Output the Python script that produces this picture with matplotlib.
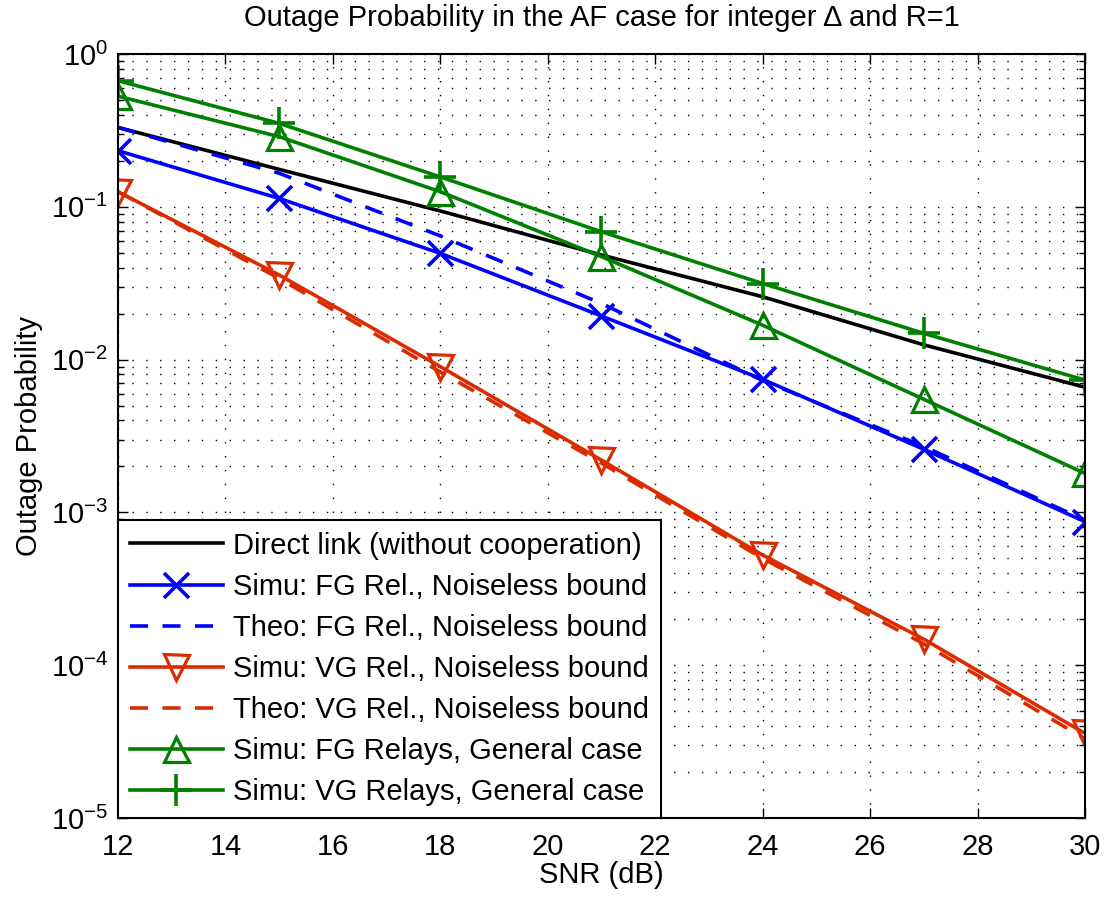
import numpy as np
import matplotlib
matplotlib.use('Agg')
import matplotlib.pyplot as plt
from matplotlib.ticker import LogLocator, NullFormatter

plt.rcParams['font.family'] = ['Liberation Sans', 'DejaVu Sans']
plt.rcParams['mathtext.fontset'] = 'custom'
plt.rcParams['mathtext.rm'] = 'Liberation Sans'
plt.rcParams['mathtext.it'] = 'Liberation Sans'

# SNR points (dB)
snr = [12, 15, 18, 21, 24, 27, 30]

# outage probabilities
direct_link = [0.331, 0.176, 0.094, 0.0484, 0.0258, 0.0125, 0.0066]
simu_fg_noiseless = [0.233, 0.1136, 0.0496, 0.0193, 0.00743, 0.00259, 0.00087]
theo_fg_noiseless = [0.331, 0.166, 0.0645, 0.0233, 0.0073, 0.0027, 0.00089]
simu_vg_noiseless = [0.1256, 0.0358, 0.0090, 0.0022, 0.000526, 0.000148, 3.58e-5]
theo_vg_noiseless = [0.1256, 0.034, 0.0083, 0.0021, 0.00050, 0.000138, 3.3e-5]
simu_fg_general = [0.53, 0.288, 0.1256, 0.0472, 0.0168, 0.0055, 0.0018]
simu_vg_general = [0.669, 0.352, 0.157, 0.0687, 0.0315, 0.01486, 0.00735]

labels = ['Direct link (without cooperation)',
          'Simu: FG Rel., Noiseless bound',
          'Theo: FG Rel., Noiseless bound',
          'Simu: VG Rel., Noiseless bound',
          'Theo: VG Rel., Noiseless bound',
          'Simu: FG Relays, General case',
          'Simu: VG Relays, General case']

blue = '#0000FF'
red = '#DA2C00'
green = '#008000'
fs = 21

fig = plt.figure(figsize=(11.12, 9.01), dpi=100)
ax = fig.add_axes([0.1061, 0.0921, 0.8696, 0.8479])

lw = 2.6
ms = 18
ax.semilogy(snr, direct_link, '-', color='black', lw=lw, label=labels[0])
ax.semilogy(snr, simu_fg_noiseless, '-x', color=blue, lw=lw, ms=ms, mew=2.6, label=labels[1])
ax.semilogy(snr, theo_fg_noiseless, '--', color=blue, lw=lw, dashes=(5, 4), label=labels[2])
ax.semilogy(snr, simu_vg_noiseless, '-v', color=red, lw=lw, ms=ms, mew=2.3, mfc='none', label=labels[3])
ax.semilogy(snr, theo_vg_noiseless, '--', color=red, lw=lw, dashes=(5, 4), label=labels[4])
ax.semilogy(snr, simu_fg_general, '-^', color=green, lw=lw, ms=ms, mew=2.3, mfc='none', label=labels[5])
ax.semilogy(snr, simu_vg_general, '-+', color=green, lw=lw, ms=ms + 5, mew=2.6, label=labels[6])

ax.set_xlim(12, 30)
ax.set_ylim(1e-5, 1)
ax.set_xticks(np.arange(12, 31, 2))
ax.yaxis.set_major_locator(LogLocator(base=10, numticks=10))
ax.yaxis.set_minor_locator(LogLocator(base=10, subs=np.arange(2, 10), numticks=20))
ax.yaxis.set_minor_formatter(NullFormatter())

ax.grid(True, which='major', axis='both', color='black', linestyle=(0, (1, 9)), linewidth=1.0)
ax.grid(True, which='minor', axis='y', color='black', linestyle=(0, (1, 9)), linewidth=1.0)
ax.tick_params(which='both', direction='in', top=True, right=True, labelsize=fs, width=1.0)
ax.tick_params(which='major', length=7, pad=7)
ax.tick_params(axis='x', which='major', pad=11)
ax.tick_params(which='minor', length=4)
for s in ax.spines.values():
    s.set_linewidth(1.5)

ax.set_xlabel('SNR (dB)', fontsize=fs, labelpad=0)
ax.set_ylabel('Outage Probability', fontsize=fs, labelpad=6)
ax.set_title('Outage Probability in the AF case for integer \u0394 and R=1', fontsize=fs, pad=20)

leg = ax.legend(loc='lower left', fontsize=fs, handlelength=3.2, handletextpad=0.35,
                labelspacing=0.45, borderaxespad=0, borderpad=0.4, fancybox=False,
                framealpha=1, edgecolor='black')
leg.get_frame().set_linewidth(1.5)

fig.savefig('out.png', dpi=100)
